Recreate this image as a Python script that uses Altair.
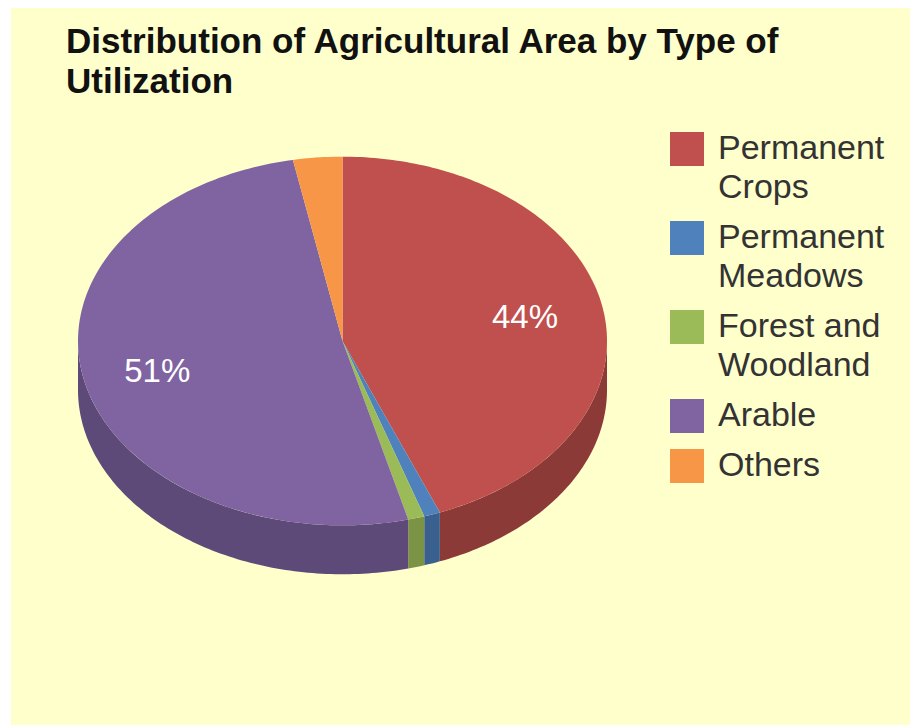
import math
import altair as alt

names = ["Permanent Crops", "Permanent Meadows", "Forest and Woodland", "Arable", "Others"]
shares = [44, 1, 1, 51, 3]
top_colors = ["#C0504D", "#4F81BD", "#9BBB59", "#8064A2", "#F79646"]
side_colors = ["#8C3A38", "#3A6090", "#7A9345", "#5E4A78", "#B56E33"]
title_lines = ["Distribution of Agricultural Area by Type of", "Utilization"]

SQUASH = 0.697
DEPTH = 0.185


def pt(deg, drop=0.0):
    r = math.radians(deg)
    return [math.sin(r), math.cos(r) * SQUASH - drop]


def sweep(a, b):
    n = max(2, int(abs(b - a)) + 1)
    return [a + (b - a) * i / n for i in range(n + 1)]


top_features, side_features, label_rows = [], [], []
start = 0.0
total = sum(shares)
for name, share, side in zip(names, shares, side_colors):
    end = start + share / total * 360
    ring = [[0.0, 0.0]] + [pt(d) for d in sweep(start, end)] + [[0.0, 0.0]]
    top_features.append({"type": "Feature", "properties": {"name": name},
                         "geometry": {"type": "Polygon", "coordinates": [ring]}})
    a, b = max(start, 90.0), min(end, 270.0)
    if b > a:
        arc = sweep(a, b)
        wall = [pt(d) for d in arc] + [pt(d, DEPTH) for d in reversed(arc)]
        wall.append(wall[0])
        side_features.append({"type": "Feature", "properties": {"side": side},
                              "geometry": {"type": "Polygon", "coordinates": [wall]}})
    if share >= 5:
        x, y = pt((start + end) / 2)
        label_rows.append({"lon": x * 0.71, "lat": y * 0.71, "label": f"{share}%"})
    start = end

proj = dict(type="identity", reflectY=True, scale=264.5, translate=[331.5, 333])

sides = (
    alt.Chart(alt.Data(values=side_features))
    .mark_geoshape(strokeWidth=0)
    .encode(color=alt.Color("properties.side:N", scale=None, legend=None))
    .project(**proj)
)

label_expr = (
    "indexof(datum.label,' ')<0 ? datum.label : "
    "[substring(datum.label,0,lastindexof(datum.label,' ')),"
    "substring(datum.label,lastindexof(datum.label,' ')+1)]"
)

tops = (
    alt.Chart(alt.Data(values=top_features))
    .mark_geoshape(strokeWidth=0)
    .encode(
        fill=alt.Fill(
            "properties.name:N",
            scale=alt.Scale(domain=names, range=top_colors),
            legend=alt.Legend(
                title=None,
                orient="none",
                legendX=659,
                legendY=124,
                symbolType="square",
                symbolSize=1156,
                symbolStrokeWidth=0,
                symbolOpacity=1,
                labelFont="Liberation Sans",
                labelFontSize=34,
                labelColor="#333333",
                labelLimit=260,
                labelOffset=14,
                labelExpr=label_expr,
                rowPadding=16,
                padding=0,
            ),
        )
    )
    .project(**proj)
)

labels = (
    alt.Chart(alt.Data(values=label_rows))
    .mark_text(font="Liberation Sans", fontSize=33, color="#FFFFFF", dx=-2, dy=2)
    .encode(longitude="lon:Q", latitude="lat:Q", text="label:N")
    .project(**proj)
)

chart = (
    alt.layer(sides, tops, labels)
    .properties(
        width=899,
        height=717,
        padding={"left": 3, "top": 0, "right": 0, "bottom": 0},
        autosize=alt.AutoSizeParams(type="none"),
        background="white",
        view=alt.ViewBackground(fill="#FFFFCC", strokeWidth=0),
        title=alt.TitleParams(
            text=title_lines,
            anchor="start",
            frame="group",
            font="Liberation Sans",
            fontSize=35,
            fontWeight="bold",
            color="#111111",
            lineHeight=40,
            baseline="top",
            dx=55,
            dy=92,
            offset=0,
        ),
    )
    .configure(style={"guide-label": {"lineHeight": 39}})
)

chart.save("out.html", embed_options={"renderer": "svg", "actions": False})
